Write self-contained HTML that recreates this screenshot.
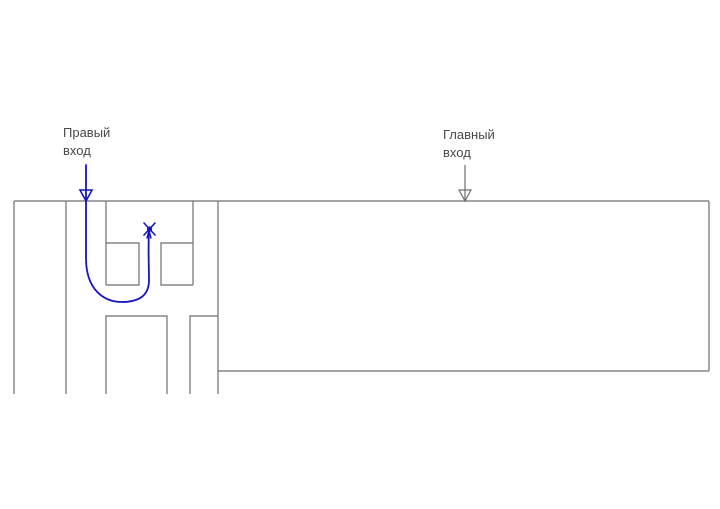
<!DOCTYPE html>
<html><head><meta charset="utf-8"><style>
html,body{margin:0;padding:0;background:#fff;}
svg{display:block;}
text{font-family:"Liberation Sans","DejaVu Sans",sans-serif;font-size:13px;fill:#4a4a4a;}
</style></head><body>
<svg width="720" height="509" viewBox="0 0 720 509" xmlns="http://www.w3.org/2000/svg">
<g stroke="#6e6e6e" stroke-width="1.2" fill="none">
  <line x1="14" y1="201" x2="709" y2="201"/>
  <line x1="709" y1="201" x2="709" y2="371"/>
  <line x1="218" y1="371" x2="709" y2="371"/>
  <line x1="14" y1="201" x2="14" y2="394"/>
  <line x1="66" y1="201" x2="66" y2="394"/>
  <line x1="218" y1="201" x2="218" y2="394"/>
  <line x1="106" y1="201" x2="106" y2="285"/>
  <line x1="193" y1="201" x2="193" y2="285"/>
  <polyline points="106,243 139,243 139,285 106,285"/>
  <polyline points="193,243 161,243 161,285 193,285"/>
  <polyline points="106,394 106,316 167,316 167,394"/>
  <polyline points="190,394 190,316 218,316"/>
  <line x1="465" y1="165" x2="465" y2="201"/>
  <polygon points="459,190 471,190 465,201"/>
</g>
<g stroke="#1414c0" stroke-width="1.8" fill="none" stroke-linecap="round">
  <line x1="86" y1="165" x2="86" y2="201"/>
  <polygon points="80,190 92,190 86,201" stroke-width="1.6"/>
  <path d="M86,201 L86,258 C86,290 104,302 122,302 C140,302 149,295 149,280 C149,268 148,250 149,231"/>
  <line x1="144" y1="223" x2="155" y2="235" stroke-width="1.6"/>
  <line x1="155" y1="223" x2="144" y2="235" stroke-width="1.6"/>
  <line x1="149" y1="231" x2="147" y2="238" stroke-width="1.4"/>
  <line x1="149" y1="231" x2="151" y2="238" stroke-width="1.4"/>
</g>
<circle cx="149.5" cy="229" r="2.6" fill="#1414c0"/>
<text x="63" y="137">Правый</text>
<text x="63" y="155">вход</text>
<text x="443" y="139">Главный</text>
<text x="443" y="157">вход</text>
</svg>
</body></html>
